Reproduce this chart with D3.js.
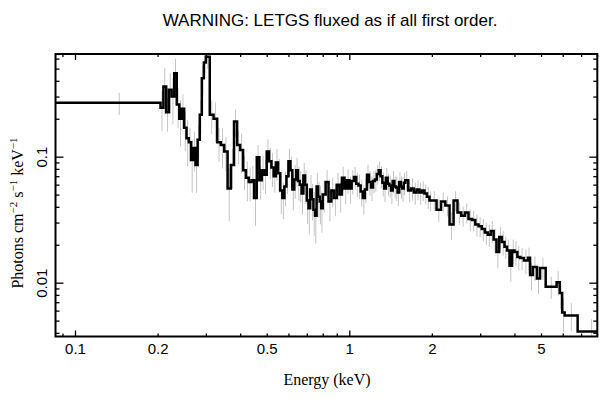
<!DOCTYPE html>
<html>
<head>
<meta charset="utf-8">
<script src="https://cdn.jsdelivr.net/npm/d3@7"></script>
<style>
  body { margin: 0; background: #fff; }
</style>
</head>
<body>
<script>
// spectrum bins: low edge of each bin (keV), upper edge of the last bin
var binLo = [
  0.085, 0.205, 0.21, 0.215, 0.22, 0.225, 0.23, 0.235, 0.24, 0.245,
  0.25, 0.255, 0.26, 0.265, 0.27, 0.275, 0.28, 0.285, 0.29, 0.295,
  0.30, 0.31, 0.32, 0.33, 0.34, 0.35, 0.36, 0.37, 0.38, 0.39,
  0.40, 0.41, 0.42, 0.43, 0.44, 0.45, 0.46, 0.47, 0.48, 0.49,
  0.50, 0.51, 0.52, 0.53, 0.54, 0.55, 0.56, 0.57, 0.58, 0.59,
  0.60, 0.61, 0.62, 0.63, 0.64, 0.65, 0.66, 0.67, 0.68, 0.69,
  0.70, 0.71, 0.72, 0.73, 0.74, 0.75, 0.76, 0.77, 0.78, 0.79,
  0.80, 0.82, 0.84, 0.86, 0.88, 0.90, 0.92, 0.94, 0.96, 0.98,
  1.00, 1.02, 1.04, 1.06, 1.08, 1.10, 1.12, 1.14, 1.16, 1.18,
  1.20, 1.22, 1.24, 1.26, 1.28, 1.30, 1.32, 1.34, 1.36, 1.38,
  1.40, 1.42, 1.44, 1.46, 1.48, 1.50, 1.52, 1.54, 1.56, 1.58,
  1.60, 1.64, 1.68, 1.72, 1.76, 1.80, 1.84, 1.88, 1.92, 1.96,
  2.00, 2.08, 2.16, 2.24, 2.32, 2.40, 2.48, 2.56, 2.64, 2.72,
  2.80, 2.88, 2.96, 3.04, 3.12, 3.20, 3.28, 3.36, 3.44, 3.52,
  3.60, 3.68, 3.76, 3.84, 3.92,
  4.00, 4.10, 4.20, 4.33, 4.48, 4.56, 4.67, 4.83, 4.96, 5.20,
  5.70, 5.85, 5.97, 6.10, 6.80
];
var binEnd = 8.5;

// photons cm^-2 s^-1 keV^-1
var flux = [
  0.268, 0.245, 0.36, 0.225, 0.34, 0.30, 0.46, 0.26, 0.20, 0.24,
  0.17, 0.14, 0.13, 0.094, 0.117, 0.086, 0.136, 0.215, 0.42, 0.56,
  0.62, 0.215, 0.20, 0.13, 0.124, 0.11, 0.056, 0.086, 0.19, 0.124,
  0.113, 0.078, 0.068, 0.063, 0.065, 0.047, 0.099, 0.065, 0.078, 0.072,
  0.11, 0.092, 0.082, 0.07, 0.09, 0.074, 0.054, 0.047, 0.058, 0.07,
  0.092, 0.078, 0.055, 0.066, 0.078, 0.064, 0.06, 0.051, 0.071, 0.06,
  0.045, 0.039, 0.055, 0.046, 0.038, 0.034, 0.058, 0.048, 0.044, 0.039,
  0.050, 0.063, 0.044, 0.054, 0.047, 0.060, 0.050, 0.068, 0.056, 0.065,
  0.056, 0.064, 0.069, 0.061, 0.059, 0.053, 0.047, 0.055, 0.072, 0.063,
  0.057, 0.064, 0.066, 0.073, 0.078, 0.07, 0.062, 0.056, 0.068, 0.061,
  0.059, 0.054, 0.064, 0.058, 0.057, 0.052, 0.063, 0.058, 0.056, 0.062,
  0.065, 0.054, 0.056, 0.052, 0.055, 0.052, 0.054, 0.051, 0.048, 0.045,
  0.045, 0.038, 0.044, 0.041, 0.029, 0.045, 0.036, 0.034, 0.036, 0.032,
  0.0315, 0.029, 0.028, 0.0267, 0.025, 0.024, 0.0257, 0.022, 0.0175, 0.023,
  0.021, 0.0193, 0.018, 0.0136, 0.018,
  0.0175, 0.016, 0.0157, 0.015, 0.0158, 0.0115, 0.0133, 0.0108, 0.0131, 0.0093,
  0.0101, 0.0083, 0.0058, 0.0055, 0.0041
];

// 1-sigma error as a fraction of the flux
var relErr = [
  0.2, 0.35, 0.4, 0.3, 0.35, 0.4, 0.3, 0.35, 0.4, 0.3,
  0.35, 0.4, 0.3, 0.45, 0.35, 0.4, 0.3, 0.3, 0.25, 0.2,
  0.2, 0.3, 0.35, 0.3, 0.35, 0.3, 0.45, 0.35, 0.25, 0.3,
  0.35, 0.3, 0.35, 0.3, 0.3, 0.4, 0.25, 0.3, 0.3, 0.3,
  0.25, 0.28, 0.3, 0.26, 0.28, 0.3, 0.35, 0.32, 0.3, 0.28,
  0.25, 0.28, 0.32, 0.3, 0.26, 0.3, 0.28, 0.32, 0.26, 0.3,
  0.35, 0.38, 0.3, 0.32, 0.38, 0.4, 0.28, 0.32, 0.34, 0.36,
  0.28, 0.24, 0.3, 0.26, 0.28, 0.24, 0.28, 0.22, 0.25, 0.22,
  0.24, 0.22, 0.2, 0.22, 0.22, 0.24, 0.26, 0.22, 0.2, 0.22,
  0.22, 0.2, 0.2, 0.18, 0.18, 0.2, 0.22, 0.22, 0.2, 0.2,
  0.2, 0.22, 0.2, 0.2, 0.22, 0.22, 0.2, 0.2, 0.22, 0.2,
  0.18, 0.2, 0.2, 0.2, 0.18, 0.2, 0.18, 0.18, 0.2, 0.18,
  0.18, 0.2, 0.18, 0.18, 0.25, 0.18, 0.2, 0.18, 0.18, 0.2,
  0.18, 0.2, 0.18, 0.2, 0.2, 0.2, 0.2, 0.22, 0.25, 0.2,
  0.22, 0.2, 0.22, 0.25, 0.22,
  0.22, 0.22, 0.2, 0.22, 0.2, 0.25, 0.22, 0.25, 0.2, 0.2,
  0.22, 0.25, 0.3, 0.25, 0.25
];

var xMajor = [0.1, 1];
var xMinor = [0.09, 0.2, 0.3, 0.4, 0.5, 0.6, 0.7, 0.8, 0.9, 2, 3, 4, 5, 6, 7, 8];
var xLabels = [0.1, 0.2, 0.5, 1, 2, 5];
var yMajor = [0.01, 0.1];
var yMinor = [0.004, 0.005, 0.006, 0.007, 0.008, 0.009,
  0.02, 0.03, 0.04, 0.05, 0.06, 0.07, 0.08, 0.09, 0.2, 0.3, 0.4, 0.5, 0.6];
var yLabels = [0.01, 0.1];

var width = 609;
var height = 399;
var pLeft = 55.5, pRight = 597.3, pTop = 54, pBottom = 336.5;

var x = d3.scaleLog().domain([0.0849, 8.02]).range([pLeft, pRight]);
var y = d3.scaleLog().domain([0.00374, 0.653]).range([pBottom, pTop]);

var bins = binLo.map(function(lo, i) {
  var hi = i < binLo.length - 1 ? binLo[i + 1] : binEnd;
  return { lo: lo, hi: hi, f: flux[i], e: flux[i] * relErr[i] };
});

var svg = d3.select('body').append('svg')
    .attr('width', width)
    .attr('height', height);

svg.append('defs').append('clipPath').attr('id', 'plot')
  .append('rect')
    .attr('x', pLeft).attr('y', pTop)
    .attr('width', pRight - pLeft).attr('height', pBottom - pTop);

var plot = svg.append('g').attr('clip-path', 'url(#plot)');

// error bars
plot.selectAll('line.err')
  .data(bins)
  .enter().append('line')
    .attr('class', 'err')
    .attr('x1', function(d) { return x((d.lo + d.hi) / 2); })
    .attr('x2', function(d) { return x((d.lo + d.hi) / 2); })
    .attr('y1', function(d) { return y(d.f + d.e); })
    .attr('y2', function(d) { return y(Math.max(d.f - d.e, 1e-4)); })
    .attr('stroke', '#c4c4c4')
    .attr('stroke-width', 1);

// histogram step line
var pts = bins.map(function(d) { return [d.lo, d.f]; });
pts.push([binEnd, flux[flux.length - 1]]);

plot.append('path')
  .datum(pts)
  .attr('fill', 'none')
  .attr('stroke', '#000')
  .attr('stroke-width', 2.5)
  .attr('d', d3.line()
    .x(function(d) { return x(d[0]); })
    .y(function(d) { return y(d[1]); })
    .curve(d3.curveStepAfter));

// axes: ticks point inward on all four sides
var xTicks = xMajor.concat(xMinor);
var yTicks = yMajor.concat(yMinor);

function styleAxis(g) {
  g.select('.domain').remove();
  g.selectAll('.tick line').attr('stroke', '#000').attr('stroke-width', 1.3);
  g.selectAll('text')
    .attr('fill', '#000')
    .attr('font-family', 'Liberation Sans, Arial, sans-serif')
    .attr('font-size', 15);
}

var gb = svg.append('g')
  .attr('transform', 'translate(0,' + pBottom + ')')
  .call(d3.axisBottom(x).tickValues(xTicks).tickSizeInner(-3).tickSizeOuter(0)
    .tickPadding(7)
    .tickFormat(function(d) { return xLabels.indexOf(d) >= 0 ? String(d) : ''; }))
  .call(styleAxis);
gb.selectAll('.tick line').attr('y2', function(d) { return xMajor.indexOf(d) >= 0 ? -6 : -3; });

var gt = svg.append('g')
  .attr('transform', 'translate(0,' + pTop + ')')
  .call(d3.axisTop(x).tickValues(xTicks).tickSizeInner(-3).tickSizeOuter(0)
    .tickFormat(''))
  .call(styleAxis);
gt.selectAll('.tick line').attr('y2', function(d) { return xMajor.indexOf(d) >= 0 ? 6 : 3; });

var gl = svg.append('g')
  .attr('transform', 'translate(' + pLeft + ',0)')
  .call(d3.axisLeft(y).tickValues(yTicks).tickSizeInner(-4).tickSizeOuter(0)
    .tickFormat(function(d) { return yLabels.indexOf(d) >= 0 ? String(d) : ''; }))
  .call(styleAxis);
gl.selectAll('.tick line').attr('x2', function(d) { return yMajor.indexOf(d) >= 0 ? 8 : 4; });
gl.selectAll('.tick text')
  .attr('x', 0)
  .attr('y', -9)
  .attr('dy', null)
  .attr('text-anchor', 'middle')
  .attr('transform', 'rotate(-90)');

var gr = svg.append('g')
  .attr('transform', 'translate(' + pRight + ',0)')
  .call(d3.axisRight(y).tickValues(yTicks).tickSizeInner(-4).tickSizeOuter(0)
    .tickFormat(''))
  .call(styleAxis);
gr.selectAll('.tick line').attr('x2', function(d) { return yMajor.indexOf(d) >= 0 ? -8 : -4; });

// frame
svg.append('rect')
  .attr('x', pLeft).attr('y', pTop)
  .attr('width', pRight - pLeft).attr('height', pBottom - pTop)
  .attr('fill', 'none')
  .attr('stroke', '#000')
  .attr('stroke-width', 2);

// title and axis labels
svg.append('text')
  .attr('x', 330).attr('y', 26)
  .attr('text-anchor', 'middle')
  .attr('font-family', 'Liberation Sans, Arial, sans-serif')
  .attr('font-size', 17)
  .text('WARNING: LETGS fluxed as if all first order.');

svg.append('text')
  .attr('x', 327).attr('y', 385)
  .attr('text-anchor', 'middle')
  .attr('font-family', 'Liberation Serif, Times New Roman, serif')
  .attr('font-size', 16)
  .text('Energy (keV)');

var yl = svg.append('text')
  .attr('transform', 'translate(23,213) rotate(-90)')
  .attr('text-anchor', 'middle')
  .attr('font-family', 'Liberation Serif, Times New Roman, serif')
  .attr('font-size', 16);
yl.append('tspan').text('Photons cm');
yl.append('tspan').attr('font-size', 11).attr('dy', -6).text('\u22122');
yl.append('tspan').attr('dy', 6).text(' s');
yl.append('tspan').attr('font-size', 11).attr('dy', -6).text('\u22121');
yl.append('tspan').attr('dy', 6).text(' keV');
yl.append('tspan').attr('font-size', 11).attr('dy', -6).text('\u22121');
</script>
</body>
</html>
